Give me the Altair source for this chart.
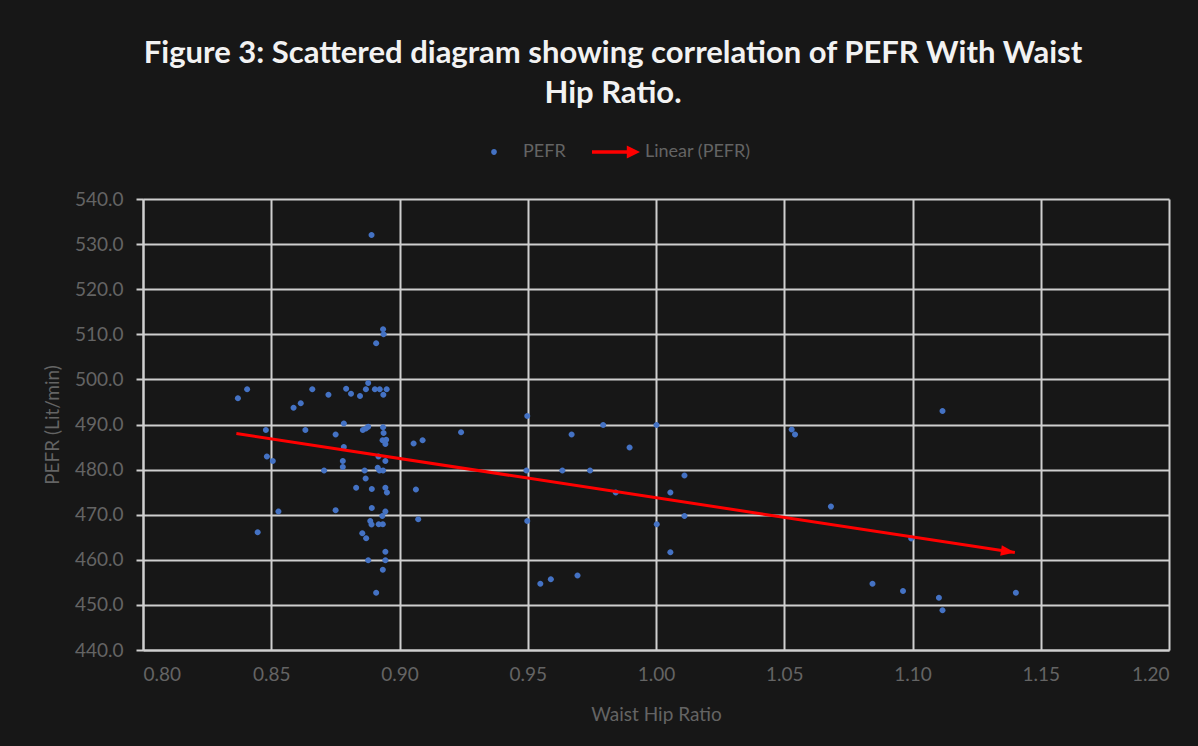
import altair as alt
import pandas as pd

# Waist hip ratio (x) and PEFR (y)
ratio = [
    0.8370, 0.8406, 0.8447, 0.8479, 0.8483, 0.8506, 0.8528, 0.8587, 0.8615, 0.8633,
    0.8660, 0.8706, 0.8723, 0.8751, 0.8751,
    0.8792, 0.8811, 0.8846, 0.8869, 0.8878, 0.8904, 0.8923, 0.8950, 0.8937, 0.8891,
    0.8936, 0.8938, 0.8909, 0.8783, 0.8857, 0.8869, 0.8878, 0.8936, 0.8938, 0.8934,
    0.8948, 0.8945, 0.8783, 0.8779, 0.8779, 0.8918, 0.8945, 0.8864, 0.8915, 0.8922,
    0.8936, 0.8868, 0.8831, 0.8892, 0.8945, 0.8951, 0.8892, 0.8945, 0.8933, 0.8886,
    0.8891, 0.8919, 0.8935, 0.8855, 0.8870, 0.8945, 0.8878, 0.8945, 0.8935, 0.8909,
    0.9055, 0.9090, 0.9064, 0.9073, 0.9240,
    0.9498, 0.9495, 0.9498, 0.9549, 0.9590, 0.9635, 0.9671, 0.9694, 0.9743, 0.9794,
    0.9843, 0.9897, 1.0002, 1.0003, 1.0056, 1.0056, 1.0111, 1.0111,
    1.0529, 1.0542, 1.0682, 1.0844, 1.0963, 1.0995, 1.1103, 1.1117, 1.1117, 1.1403,
]
pefr = [
    495.8, 497.8, 466.1, 488.8, 482.9, 481.9, 470.7, 493.7, 494.7, 488.8,
    497.8, 479.8, 496.6, 487.8, 471.0,
    497.9, 496.8, 496.3, 497.8, 499.2, 497.8, 497.8, 497.8, 496.6, 532.0,
    511.1, 510.0, 508.0, 490.2, 488.8, 489.1, 489.5, 489.4, 488.1, 486.5,
    486.6, 485.7, 485.0, 481.9, 480.6, 482.9, 481.9, 479.8, 480.4, 479.8,
    479.8, 478.0, 476.0, 475.7, 476.0, 474.9, 471.5, 470.7, 469.7, 468.6,
    467.8, 467.9, 467.9, 465.9, 464.8, 461.8, 459.9, 459.9, 457.8, 452.7,
    485.8, 486.5, 475.6, 469.0, 488.3,
    491.9, 479.8, 468.6, 454.7, 455.7, 479.8, 487.8, 456.5, 479.8, 489.9,
    474.9, 484.9, 489.9, 467.9, 474.9, 461.7, 478.7, 469.7,
    488.9, 487.8, 471.8, 454.7, 453.1, 464.7, 451.6, 493.0, 448.8, 452.7,
]

# Linear trend line end points as drawn in the reference
trend_ratio = [0.8364, 1.1399]
trend_pefr = [488.0, 461.6]

x_ticks = [0.80, 0.85, 0.90, 0.95, 1.00, 1.05, 1.10, 1.15, 1.20]
y_ticks = [440, 450, 460, 470, 480, 490, 500, 510, 520, 530, 540]
series_names = ["PEFR", "Linear (PEFR)"]

BLUE = "#4472C4"
RED = "#FF0000"
GRID = "#cfcfcf"
LABEL = "#646464"
FONT = "Lato"

DOT = "M-0.12,0A0.12,0.12 0 1,0 0.12,0A0.12,0.12 0 1,0 -0.12,0Z"
ARROW = "M-1,-0.07L0.45,-0.07L0.45,-0.27L1,0L0.45,0.27L0.45,0.07L-1,0.07Z"
HEAD = "M0,0L-2,-0.75L-2,0.75Z"

pts = pd.DataFrame({"ratio": ratio, "pefr": pefr, "series": series_names[0]})
trend = pd.DataFrame({"ratio": trend_ratio, "pefr": trend_pefr})

xscale = alt.Scale(domain=[0.8, 1.2], nice=False, zero=False)
yscale = alt.Scale(domain=[440, 540], nice=False, zero=False)

xaxis = alt.Axis(values=x_ticks, format=".2f", title="Waist Hip Ratio", ticks=False,
                 labelPadding=15, titlePadding=21)
yaxis = alt.Axis(values=y_ticks, format=".1f", title="PEFR (Lit/min)", tickSize=7,
                 labelPadding=13, titlePadding=12)

points = alt.Chart(pts).mark_point(filled=True, opacity=1, strokeWidth=0).encode(
    x=alt.X("ratio:Q", scale=xscale, axis=xaxis),
    y=alt.Y("pefr:Q", scale=yscale, axis=yaxis),
    color=alt.Color("series:N",
                    scale=alt.Scale(domain=series_names, range=[BLUE, RED]),
                    legend=alt.Legend(orient="none", legendX=327, legendY=-71,
                                      direction="horizontal", title=None,
                                      symbolSize=2304, symbolStrokeWidth=0,
                                      labelFont=FONT, labelFontSize=18,
                                      labelColor=LABEL, labelOffset=5,
                                      columnPadding=26, padding=0)),
    shape=alt.Shape("series:N",
                    scale=alt.Scale(domain=series_names, range=[DOT, ARROW])),
    size=alt.value(2500),
)

line = alt.Chart(trend).mark_line(color=RED, strokeWidth=3).encode(
    x=alt.X("ratio:Q", scale=xscale),
    y=alt.Y("pefr:Q", scale=yscale),
)

head = alt.Chart(trend.iloc[[-1]]).mark_point(
    filled=True, color=RED, opacity=1, shape=HEAD, size=196, angle=8.7, strokeWidth=0
).encode(
    x=alt.X("ratio:Q", scale=xscale),
    y=alt.Y("pefr:Q", scale=yscale),
)

chart = alt.layer(points, line, head).properties(
    width=1026,
    height=451,
    autosize=alt.AutoSizeParams(type="none"),
    padding={"left": 143, "top": 199, "right": 29, "bottom": 96},
    background="#171717",
    title=alt.TitleParams(
        text=["Figure 3: Scattered diagram showing correlation of PEFR With Waist",
              "Hip Ratio."],
        font=FONT, fontSize=31, fontWeight="bold", color="#f2f2f2",
        anchor="middle", dx=-43, offset=18, lineHeight=40,
    ),
).configure_view(strokeWidth=0).configure_axis(
    grid=True, gridColor=GRID, gridWidth=2, gridOpacity=1,
    domainColor=GRID, domainWidth=2, tickColor=GRID, tickWidth=2,
    labelFont=FONT, labelFontSize=19, labelColor=LABEL,
    titleFont=FONT, titleFontSize=19, titleColor=LABEL, titleFontWeight="normal",
)

chart.save("out.html", embed_options={"renderer": "svg", "actions": False})
